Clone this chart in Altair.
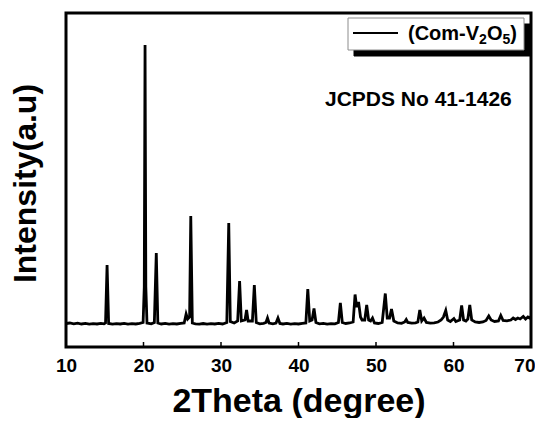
import altair as alt
import pandas as pd

# XRD pattern (2theta in degrees, intensity in arbitrary units)
two_theta = [
    10.0, 10.5, 11.0, 11.5, 12.0, 12.5, 13.0, 13.5, 14.0, 14.5, 14.9,
    15.1, 15.3, 15.5, 16.0, 16.5, 17.0, 17.5, 18.0, 18.5, 19.0, 19.5,
    19.95, 20.1, 20.2, 20.3, 20.45, 21.0, 21.4, 21.65, 21.85, 22.3, 22.8,
    23.3, 23.8, 24.3, 24.8, 25.25, 25.5, 25.7, 25.95, 26.1, 26.3, 26.7,
    27.2, 27.7, 28.2, 28.7, 29.2, 29.7, 30.2, 30.75, 31.0, 31.2, 31.7,
    32.15, 32.4, 32.62, 33.1, 33.3, 33.5, 34.05, 34.3, 34.55, 35.0, 35.5,
    35.8, 36.0, 36.2, 36.7, 37.1, 37.35, 37.6, 38.0, 38.5, 39.0, 39.5,
    40.0, 40.5, 40.95, 41.2, 41.45, 41.75, 42.0, 42.25, 42.7, 43.2, 43.7,
    44.2, 44.7, 45.15, 45.4, 45.65, 46.1, 46.6, 47.05, 47.3, 47.5, 47.75,
    48.0, 48.2, 48.55, 48.8, 49.05, 49.3, 49.55, 49.8, 50.3, 50.8, 51.2,
    51.45, 51.75, 52.0, 52.3, 52.8, 53.3, 53.7, 53.9, 54.1, 54.6, 55.1,
    55.4, 55.65, 55.9, 56.2, 56.5, 57.0, 57.5, 58.0, 58.4, 58.7, 59.0,
    59.25, 59.6, 60.05, 60.3, 60.8, 61.05, 61.3, 61.6, 61.85, 62.1, 62.35,
    62.8, 63.3, 63.8, 64.2, 64.55, 64.85, 65.3, 65.8, 66.1, 66.4, 66.9,
    67.4, 67.7, 68.0, 68.3, 68.6, 69.0, 69.3, 69.6, 69.8, 70.0,
]
intensity = [
    235, 240, 232, 238, 230, 236, 228, 234, 230, 236, 232,
    240, 820, 235, 228, 234, 230, 236, 229, 233, 230, 236,
    245, 600, 3020, 600, 240, 232, 245, 940, 240, 230, 236,
    229, 234, 230, 236, 240, 330, 280, 300, 1310, 240, 232,
    228, 235, 229, 234, 230, 236, 230, 245, 1240, 255, 240,
    260, 660, 260, 270, 370, 260, 260, 620, 245, 232, 236,
    245, 290, 240, 232, 240, 290, 235, 230, 236, 229, 234,
    230, 236, 240, 580, 260, 270, 385, 245, 232, 236, 229,
    234, 232, 245, 440, 245, 235, 240, 250, 525, 400, 450,
    300, 270, 270, 420, 270, 260, 290, 240, 235, 245, 535,
    290, 290, 380, 260, 240, 236, 250, 275, 245, 238, 242,
    250, 370, 260, 290, 245, 238, 242, 250, 270, 300, 365,
    270, 255, 285, 255, 270, 415, 270, 260, 280, 420, 270,
    250, 245, 250, 265, 310, 270, 255, 260, 315, 265, 262,
    270, 290, 275, 290, 280, 305, 280, 300, 290, 305,
]
tick_values = [10, 20, 30, 40, 50, 60, 70]
# legend label "(Com-V2O5)" split into normal / subscript pieces
legend_pieces = ["(Com-V", "2", "O", "5", ")"]
legend_is_sub = [False, True, False, True, False]
card_label = "JCPDS No 41-1426"
x_title = "2Theta (degree)"
y_title = "Intensity(a.u)"

FONT = "Liberation Sans"
W, H = 465, 334

df = pd.DataFrame({"two_theta": two_theta, "intensity": intensity})
xs = alt.Scale(domain=[10, 70], nice=False)
ys = alt.Scale(domain=[0, 3340], nice=False)

x_axis = alt.Axis(
    values=tick_values, title=x_title, domain=False, ticks=False, tickSize=0,
    grid=False, labelFlush=False, labelFont=FONT, labelFontSize=19,
    labelFontWeight="bold", labelColor="black", labelPadding=9,
    labelAlign={"expr": "datum.value == 70 ? 'right' : 'center'"},
    labelOffset={"expr": "datum.value == 70 ? 4 : 0"},
    titleFont=FONT, titleFontSize=34, titleFontWeight="bold", titleColor="black",
    titleX=W / 2, titleY=64, titleBaseline="alphabetic", titleAlign="center",
)
y_axis = alt.Axis(
    title=y_title, labels=False, ticks=False, tickSize=0, domain=False, grid=False,
    titleFont=FONT, titleFontSize=32, titleFontWeight="bold", titleColor="black",
    titleX=-41, titleY=170, titleAngle=270, titleBaseline="middle", titleAlign="center",
)

line = alt.Chart(df).mark_line(color="black", strokeWidth=2.8).encode(
    x=alt.X("two_theta:Q", scale=xs, axis=x_axis),
    y=alt.Y("intensity:Q", scale=ys, axis=y_axis),
)

ticks_df = pd.DataFrame({"two_theta": tick_values})
ticks = alt.Chart(ticks_df).mark_rule(color="black", strokeWidth=1.5).encode(
    x=alt.X("two_theta:Q", scale=xs), y=alt.value(H), y2=alt.value(H - 5)
)

one = pd.DataFrame({"k": [0]})
shadow = alt.Chart(one).mark_rect(fill="black", stroke="black", strokeWidth=1, opacity=1).encode(
    x=alt.value(288), x2=alt.value(464), y=alt.value(11), y2=alt.value(43)
)
box = alt.Chart(one).mark_rect(fill="white", stroke="#8c8c8c", strokeWidth=1, opacity=1).encode(
    x=alt.value(282), x2=alt.value(458), y=alt.value(5), y2=alt.value(37)
)
leg_line = alt.Chart(one).mark_rule(color="black", strokeWidth=2).encode(
    x=alt.value(287), x2=alt.value(332), y=alt.value(20)
)

# lay out legend text pieces by Liberation Sans Bold advance widths
adv = {"(": 0.333, "C": 0.722, "o": 0.611, "m": 0.889, "-": 0.333, "V": 0.667,
       "2": 0.556, "O": 0.778, "5": 0.556, ")": 0.333}
MAIN_FS, SUB_FS = 20, 14
legend_layers = []
cx = 342
for piece, sub in zip(legend_pieces, legend_is_sub):
    fs = SUB_FS if sub else MAIN_FS
    legend_layers.append(
        alt.Chart(one).mark_text(
            text=piece, font=FONT, fontSize=fs, fontWeight="bold",
            align="left", baseline="alphabetic", color="black",
        ).encode(x=alt.value(cx), y=alt.value(31 if sub else 27))
    )
    cx += sum(adv[c] for c in piece) * fs

card = alt.Chart(one).mark_text(
    text=card_label, font=FONT, fontSize=21, fontWeight="bold",
    align="left", baseline="alphabetic", color="black",
).encode(x=alt.value(259), y=alt.value(93))

chart = (
    alt.layer(line, ticks, shadow, box, leg_line, *legend_layers, card)
    .properties(
        width=W, height=H,
        autosize=alt.AutoSizeParams(type="none"),
        padding={"left": 58, "top": 5, "right": 4, "bottom": 71},
        background="white",
    )
    .configure_view(stroke="black", strokeWidth=3)
)

chart.save("out.html", embed_options={"renderer": "svg", "actions": False})
